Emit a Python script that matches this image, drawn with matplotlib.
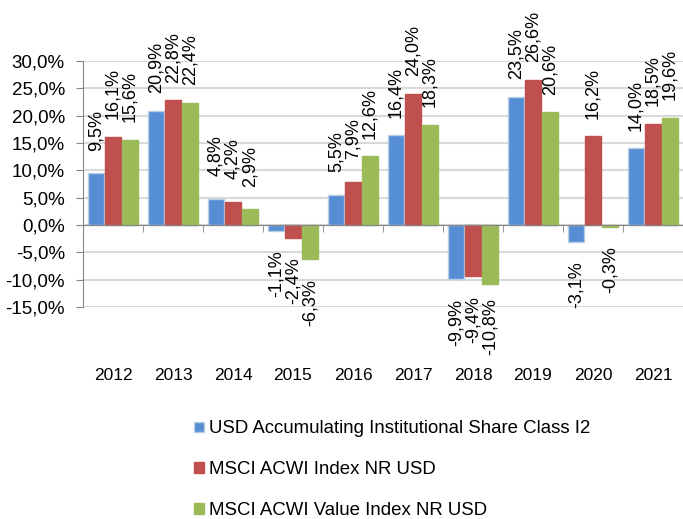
import numpy as np
import matplotlib.pyplot as plt
from matplotlib.patches import Patch

plt.rcParams['font.family'] = ['Liberation Sans', 'DejaVu Sans']

# yearly returns in %
years = ["2012", "2013", "2014", "2015", "2016", "2017", "2018", "2019", "2020", "2021"]
fund = [9.5, 20.9, 4.8, -1.1, 5.5, 16.4, -9.9, 23.5, -3.1, 14.0]
acwi = [16.1, 22.8, 4.2, -2.4, 7.9, 24.0, -9.4, 26.6, 16.2, 18.5]
acwi_value = [15.6, 22.4, 2.9, -6.3, 12.6, 18.3, -10.8, 20.6, -0.3, 19.6]

series_names = ["USD Accumulating Institutional Share Class I2",
                "MSCI ACWI Index NR USD",
                "MSCI ACWI Value Index NR USD"]
colors = ["#558ED5", "#C0504D", "#9BBB59"]
edges = ["#B9CDE5", "#C0504D", "#9BBB59"]

fig = plt.figure(figsize=(6.83, 5.19), dpi=100)
ax = fig.add_axes([83 / 683, 1 - 307 / 519, 600 / 683, 246 / 519])

x = np.arange(len(years))
width = 0.275
offsets = [-0.285, 0.0, 0.285]

for vals, off, c, ec in zip([fund, acwi, acwi_value], offsets, colors, edges):
    bars = ax.bar(x + off, vals, width, color=c, edgecolor=ec, linewidth=1, zorder=3)
    for b, v in zip(bars, vals):
        sign = 1 if v >= 0 else -1
        ax.annotate(f"{v:.1f}%".replace(".", ","),
                    (b.get_x() + b.get_width() / 2, v),
                    xytext=(0, 43 * sign), textcoords="offset pixels",
                    rotation=90, ha="center", va="center",
                    fontsize=13, color="black", annotation_clip=False)

ax.set_xlim(-0.5, 9.5)
ax.set_ylim(-15, 30)
ax.set_yticks(np.arange(-15, 31, 5))
ax.set_yticklabels([f"{v:.1f}%".replace(".", ",") for v in np.arange(-15, 31, 5)], fontsize=13.5)
ax.grid(axis="y", color="#D9D9D9", linewidth=1.5, zorder=0)
ax.tick_params(axis="y", direction="out", length=5, color="#868686", pad=8)

# category axis sits at zero, labels pushed down below the plot
ax.spines["bottom"].set_position(("data", 0))
ax.spines["bottom"].set_color("#868686")
ax.spines["bottom"].set_zorder(4)
ax.set_xticks(x)
ax.set_xticklabels(years, fontsize=12.5)
ax.set_xticks(np.arange(-0.5, 9.6, 1), minor=True)
ax.tick_params(axis="x", which="major", length=0, pad=103)
ax.tick_params(axis="x", which="minor", direction="out", length=5, color="#868686")
ax.spines["left"].set_color("#868686")
ax.spines["top"].set_visible(False)
ax.spines["right"].set_visible(False)

handles = [Patch(facecolor=c, edgecolor=ec) for c, ec in zip(colors, edges)]
fig.legend(handles, series_names, loc="upper left", bbox_to_anchor=(187 / 683, 1 - 413 / 519),
           frameon=False, fontsize=13.4, handlelength=0.5, handleheight=0.5,
           handletextpad=0.3, labelspacing=1.28, borderaxespad=0)

fig.savefig("out.png", dpi=100)
